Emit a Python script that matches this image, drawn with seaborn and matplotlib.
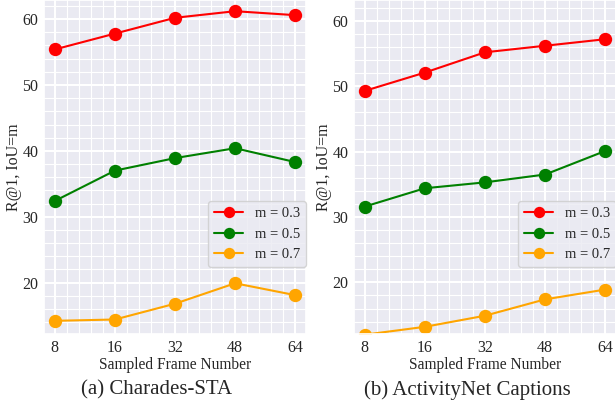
import matplotlib
matplotlib.use("Agg")
import matplotlib.pyplot as plt
import seaborn as sns
import pandas as pd
from matplotlib.ticker import MultipleLocator

frames = ["8", "16", "32", "48", "64"]
series_names = ["m = 0.3", "m = 0.5", "m = 0.7"]
charades_03 = [55.4, 57.8, 60.2, 61.2, 60.6]
charades_05 = [32.4, 37.0, 38.9, 40.4, 38.3]
charades_07 = [14.2, 14.4, 16.8, 19.9, 18.1]
anet_03 = [49.3, 52.1, 55.2, 56.2, 57.2]
anet_05 = [31.6, 34.4, 35.3, 36.5, 40.1]
anet_07 = [12.0, 13.2, 14.9, 17.4, 18.9]
captions = ["(a) Charades-STA", "(b) ActivityNet Captions"]
colors = ["#ff0000", "#008000", "#ffa500"]

sns.set_theme(style="darkgrid")
plt.rcParams['font.family'] = ['Liberation Serif', 'DejaVu Serif']

fig = plt.figure(figsize=(6.15, 4.04), dpi=100)
W, H = 615, 404
ax_boxes = [(44, 0, 262, 334), (354, 0, 262, 334)]
panels = [
    [charades_03, charades_05, charades_07],
    [anet_03, anet_05, anet_07],
]
ylims = [(12.2, 62.9), (12.1, 63.2)]
cap_x = [157, 467]

for i, (box, vals) in enumerate(zip(ax_boxes, panels)):
    x0, y0, w, h = box
    ax = fig.add_axes([x0 / W, 1 - (y0 + h) / H, w / W, h / H])
    rows = []
    for name, series in zip(series_names, vals):
        for j, (f, v) in enumerate(zip(frames, series)):
            rows.append({"pos": j, "frame": f, "value": v, "m": name})
    df = pd.DataFrame(rows)
    sns.lineplot(data=df, x="pos", y="value", hue="m", palette=colors,
                 marker="o", markersize=9.6, markeredgewidth=0,
                 linewidth=1.5, ax=ax, legend=True)
    ax.set_xlim(-0.18, 4.18)
    ax.set_ylim(*ylims[i])
    ax.set_xticks(range(len(frames)))
    ax.set_xticklabels(frames)
    ax.set_yticks([20, 30, 40, 50, 60])
    ax.xaxis.set_minor_locator(MultipleLocator(0.2))
    ax.yaxis.set_minor_locator(MultipleLocator(2))
    ax.grid(which="major", color="white", linewidth=1.5)
    ax.grid(which="minor", color="white", linewidth=0.8)
    ax.tick_params(which="both", length=0, labelsize=11.5, pad=4)
    ax.set_xlabel("Sampled Frame Number", fontsize=11.2, labelpad=1)
    ax.set_ylabel("R@1, IoU=m", fontsize=11.5, labelpad=0)
    handles, labels = ax.get_legend_handles_labels()
    ax.legend(handles, labels, loc="lower right", bbox_to_anchor=(1.0, 0.2),
              fontsize=10.5, markerscale=0.85, borderaxespad=0,
              handlelength=2.0, frameon=True)
    fig.text(cap_x[i] / W, 1 - 390 / H, captions[i], ha="center", va="center",
             fontsize=15)

fig.savefig("out.png", dpi=100)
